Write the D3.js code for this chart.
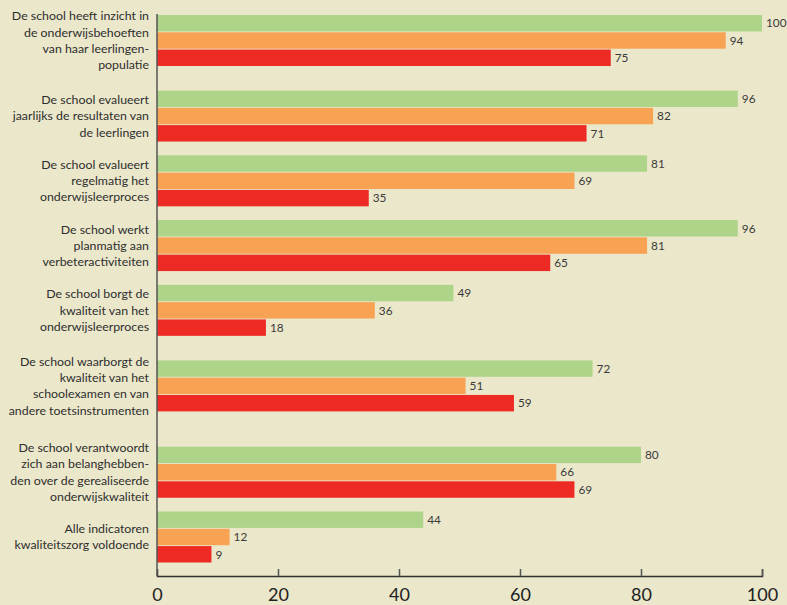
<!DOCTYPE html>
<html>
<head>
<meta charset="utf-8">
<script src="https://cdn.jsdelivr.net/npm/d3@7"></script>
<style>
  html, body { margin: 0; padding: 0; background: #ebe7ca; }
  svg { display: block; }
</style>
</head>
<body>
<svg id="chart" width="787" height="605"></svg>
<script>
// ---- data ----
const categories = [
  "De school heeft inzicht in\nde onderwijsbehoeften\nvan haar leerlingen-\npopulatie",
  "De school evalueert\njaarlijks de resultaten van\nde leerlingen",
  "De school evalueert\nregelmatig het\nonderwijsleerproces",
  "De school werkt\nplanmatig aan\nverbeteractiviteiten",
  "De school borgt de\nkwaliteit van het\nonderwijsleerproces",
  "De school waarborgt de\nkwaliteit van het\nschoolexamen en van\nandere toetsinstrumenten",
  "De school verantwoordt\nzich aan belanghebben-\nden over de gerealiseerde\nonderwijskwaliteit",
  "Alle indicatoren\nkwaliteitszorg voldoende"
];
const seriesNames = ["groen", "oranje", "rood"];
const seriesGreen  = [100, 96, 81, 96, 49, 72, 80, 44];
const seriesOrange = [94, 82, 69, 81, 36, 51, 66, 12];
const seriesRed    = [75, 71, 35, 65, 18, 59, 69, 9];
const seriesColors = ["#aed48a", "#f8a254", "#ee2a24"];
const xTicks = [0, 20, 40, 60, 80, 100];

// ---- layout ----
const svg = d3.select("#chart");
const mLeft = 157, mRight = 762, axisY = 576;
const blockH = 51;

// group spacing follows the label heights (number of label lines)
const lineCounts = categories.map(c => c.split("\n").length);
const units = [0];
for (let i = 1; i < categories.length; i++) {
  units.push(units[i - 1] + (lineCounts[i - 1] + lineCounts[i]) / 2);
}

const x = d3.scaleLinear().domain([0, 100]).range([mLeft, mRight]);
const yc = d3.scaleLinear().domain([0, units[units.length - 1]]).range([40.5, 537]);
const ySub = d3.scaleBand().domain(seriesNames).range([0, blockH]).paddingInner(0.05);
const groupTop = i => yc(units[i]) - blockH / 2;

const allSeries = [seriesGreen, seriesOrange, seriesRed];
const rows = [];
categories.forEach((c, i) => {
  allSeries.forEach((s, j) => rows.push({ i, s: seriesNames[j], v: s[i], color: seriesColors[j] }));
});

const g = svg.append("g");

g.selectAll("rect.bar").data(rows).enter().append("rect")
  .attr("class", "bar")
  .attr("x", x(0))
  .attr("y", d => groupTop(d.i) + ySub(d.s))
  .attr("width", d => x(d.v) - x(0))
  .attr("height", ySub.bandwidth())
  .attr("fill", d => d.color);

g.selectAll("text.val").data(rows).enter().append("text")
  .attr("class", "val")
  .attr("x", d => x(d.v) + 4)
  .attr("y", d => groupTop(d.i) + ySub(d.s) + ySub.bandwidth() / 2)
  .attr("dy", "0.36em")
  .attr("font-family", "Lato, 'Open Sans', sans-serif")
  .attr("font-size", 11.8)
  .attr("fill", "#3a3a3a")
  .text(d => d.v);

// category labels
const lineH = 16.3;
const labels = g.selectAll("text.cat").data(categories).enter().append("text")
  .attr("class", "cat")
  .attr("text-anchor", "end")
  .attr("font-family", "Lato, 'Open Sans', sans-serif")
  .attr("font-size", 12.35)
  .attr("fill", "#2e2e2e");
labels.each(function(c, i) {
  const lines = c.split("\n");
  const cy = yc(units[i]);
  const y0 = cy - (lines.length - 1) * lineH / 2;
  d3.select(this).selectAll("tspan").data(lines).enter().append("tspan")
    .attr("x", 149)
    .attr("y", (d, k) => y0 + k * lineH)
    .attr("dy", "0.35em")
    .text(d => d);
});

// axes
const xAxis = d3.axisBottom(x).tickValues(xTicks).tickSize(-7).tickPadding(12.5).tickFormat(d3.format("d"));
const ax = svg.append("g").attr("transform", `translate(0,${axisY})`).call(xAxis);
ax.select(".domain").attr("stroke", "#333").attr("stroke-width", 1.5);
ax.selectAll(".tick line").attr("stroke", "#555").attr("stroke-width", 1.5);
ax.selectAll(".tick").filter(d => d === 0).select("line").remove();
ax.selectAll(".tick text")
  .attr("font-family", "Lato, 'Open Sans', sans-serif")
  .attr("font-size", 18)
  .attr("fill", "#222");

svg.append("line")
  .attr("x1", x(0)).attr("x2", x(0))
  .attr("y1", groupTop(0) - 1).attr("y2", axisY)
  .attr("stroke", "#555").attr("stroke-width", 1.5);
</script>
</body>
</html>
